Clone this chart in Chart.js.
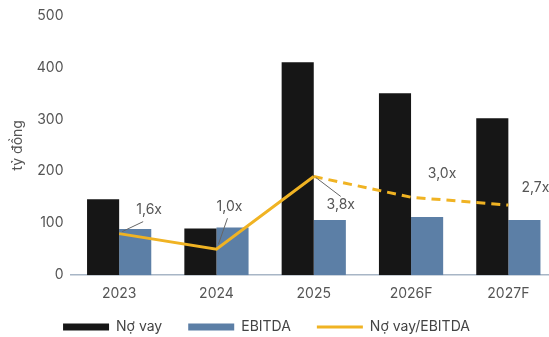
<!DOCTYPE html>
<html>
<head>
<meta charset="utf-8">
<script src="https://cdn.jsdelivr.net/npm/chart.js@4"></script>
<style>
    html, body { margin: 0; padding: 0; background: #fff; overflow: hidden; }
    #wrap { width: 557px; height: 337px; }
</style>
</head>
<body>
<div id="wrap"><canvas id="debtChart"></canvas></div>
<script>
// Data
const years = ['2023', '2024', '2025', '2026F', '2027F'];
const debt = [146, 90, 410, 350, 302];        // Nợ vay (tỷ đồng)
const ebitda = [89, 92, 106, 112, 106];       // EBITDA (tỷ đồng)
const ratio = [1.6, 1.0, 3.8, 3.0, 2.7];      // Nợ vay/EBITDA (x)
const ratioLabels = ['1,6x', '1,0x', '3,8x', '3,0x', '2,7x'];
const yTicks = [0, 100, 200, 300, 400, 500];

// label placement relative to each point, with optional leader line
const labelOffsets = [
    { dx: 30, dy: -24, leader: [[3, -2], [24, -12]] },
    { dx: 13, dy: -42, leader: [[2, -5], [11, -31]] },
    { dx: 27, dy: 28, leader: [[2, 1], [27, 20]] },
    { dx: 31, dy: -23 },
    { dx: 27, dy: -17 }
];

const FONT = "'Inter', 'Liberation Sans', sans-serif";
const TEXT = '#555';

const ratioLabelPlugin = {
    id: 'ratioLabels',
    afterDatasetsDraw(chart) {
        const meta = chart.getDatasetMeta(2);
        const ctx = chart.ctx;
        ctx.save();
        meta.data.forEach(function (pt, i) {
            const o = labelOffsets[i];
            if (o.leader) {
                ctx.strokeStyle = '#666';
                ctx.lineWidth = 1;
                ctx.beginPath();
                ctx.moveTo(pt.x + o.leader[0][0], pt.y + o.leader[0][1]);
                ctx.lineTo(pt.x + o.leader[1][0], pt.y + o.leader[1][1]);
                ctx.stroke();
            }
            ctx.fillStyle = TEXT;
            ctx.font = '14px ' + FONT;
            ctx.textAlign = 'center';
            ctx.textBaseline = 'middle';
            ctx.fillText(ratioLabels[i], pt.x + o.dx, pt.y + o.dy);
        });
        ctx.restore();
    }
};

// legend needs wide gaps between items but little height: trim its box
const LEGEND_TRIM = 25;
const LEGEND_SHIFT = 18;
const LEGEND_DX = 14;
const compactLegend = {
    id: 'compactLegend',
    afterInit(chart) {
        const legend = chart.legend;
        const fit = legend.fit;
        const draw = legend.draw;
        legend.fit = function () {
            fit.call(this);
            this.height -= LEGEND_TRIM;
        };
        legend.draw = function () {
            this.top -= LEGEND_SHIFT;
            this.left -= LEGEND_DX;
            this.right -= LEGEND_DX;
            draw.apply(this, arguments);
            this.top += LEGEND_SHIFT;
            this.left += LEGEND_DX;
            this.right += LEGEND_DX;
        };
    }
};

const ctx = document.getElementById('debtChart').getContext('2d');

new Chart(ctx, {
    data: {
        labels: years,
        datasets: [
            {
                type: 'bar',
                label: 'Nợ vay',
                data: debt,
                backgroundColor: '#161616',
                pointStyle: 'rect',
                categoryPercentage: 0.66,
                barPercentage: 1,
                order: 2
            },
            {
                type: 'bar',
                label: 'EBITDA',
                data: ebitda,
                backgroundColor: '#5c7fa6',
                pointStyle: 'rect',
                categoryPercentage: 0.66,
                barPercentage: 1,
                order: 2
            },
            {
                type: 'line',
                label: 'Nợ vay/EBITDA',
                data: ratio,
                yAxisID: 'y1',
                borderColor: '#f0b323',
                backgroundColor: '#f0b323',
                borderWidth: 3,
                pointRadius: 0,
                pointStyle: 'line',
                tension: 0,
                order: 1,
                segment: {
                    borderDash: function (c) { return c.p0DataIndex >= 2 ? [9, 6] : undefined; }
                }
            }
        ]
    },
    options: {
        responsive: true,
        maintainAspectRatio: false,
        animation: false,
        layout: { padding: { top: 1, left: 4, right: 0, bottom: 0 } },
        scales: {
            x: {
                grid: { display: false, drawTicks: false },
                border: { display: true, color: '#a8b6c6', width: 1.5 },
                ticks: {
                    color: TEXT,
                    padding: 10,
                    font: { size: 14, family: FONT }
                }
            },
            y: {
                min: 0,
                max: 500,
                afterBuildTicks: function (axis) { axis.ticks = yTicks.map(function (v) { return { value: v }; }); },
                grid: { display: false, drawTicks: false },
                border: { display: false },
                title: {
                    display: true,
                    text: 'tỷ đồng',
                    color: TEXT,
                    padding: { top: 5, bottom: 4 },
                    font: { size: 14, family: FONT }
                },
                ticks: {
                    color: TEXT,
                    padding: 7,
                    font: { size: 14, family: FONT }
                }
            },
            y1: {
                display: false,
                min: 0,
                max: 10
            }
        },
        plugins: {
            legend: {
                position: 'bottom',
                labels: {
                    usePointStyle: true,
                    pointStyleWidth: 46,
                    boxHeight: 7,
                    padding: 26,
                    color: '#444',
                    font: { size: 14, family: FONT },
                    sort: function (a, b) { return a.datasetIndex - b.datasetIndex; }
                }
            },
            tooltip: { enabled: false }
        }
    },
    plugins: [ratioLabelPlugin, compactLegend]
});
</script>
</body>
</html>
